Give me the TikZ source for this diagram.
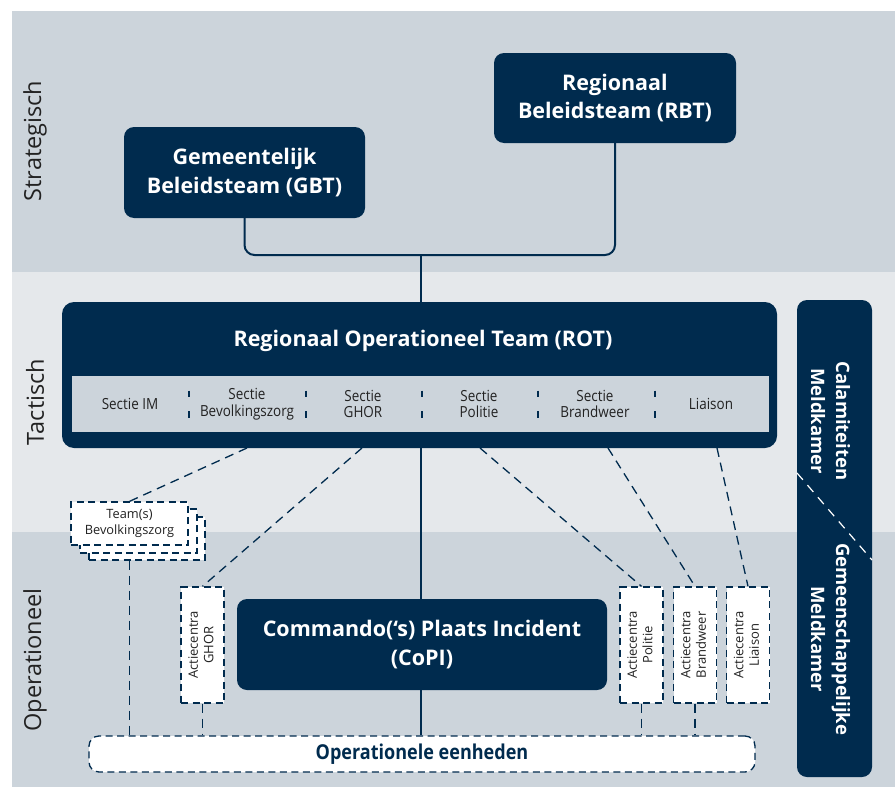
\documentclass[tikz,border=0pt]{standalone}
\usepackage{fontspec}
\setmainfont{Open Sans}
\newfontfamily\condf[FakeStretch=0.88]{Open Sans}
\definecolor{navy}{HTML}{002B4E}
\definecolor{bgS}{HTML}{CCD4DB}
\definecolor{bgT}{HTML}{E5E8EB}
\definecolor{txt}{HTML}{222222}
\begin{document}
\begin{tikzpicture}[x=1pt,y=-1pt,
  darkbox/.style={fill=navy, rounded corners=10pt, text=white, align=center, inner sep=0pt,
    font=\bfseries\fontsize{21.5}{28.5}\selectfont},
  dbox/.style={draw=navy, fill=white, line width=1.3pt, dash pattern=on 7pt off 4.5pt, inner sep=0pt, align=center, text=txt},
  conn/.style={draw=navy, line width=2pt},
  dconn/.style={draw=navy, line width=1.3pt, dash pattern=on 9pt off 6pt},
  lbl/.style={font=\fontsize{23.5}{26}\selectfont, text=txt, rotate=90},
  sect/.style={font=\condf\fontsize{15.3}{16.5}\selectfont, text=txt, align=center},
  sep/.style={draw=navy, line width=2.5pt},
  acbox/.style={dbox, minimum width=43pt, minimum height=116pt, font=\fontsize{13}{15.5}\selectfont},
]
\useasboundingbox (0,0) rectangle (895,787);
\fill[white] (0,0) rectangle (895,787);
\fill[bgS] (12,11) rectangle (895,272);
\fill[bgT] (12,272) rectangle (895,532);
\fill[bgS] (12,532) rectangle (895,787);

% level labels
\node[lbl] (lS) at (35,141) {Strategisch};
\node[lbl] (lT) at (35,402) {Tactisch};
\node[lbl] (lO) at (35,660) {Operationeel};

% strategic boxes
\node[darkbox, minimum width=241pt, minimum height=91pt] (gbt) at (244.5,172.5) {Gemeentelijk\\Beleidsteam (GBT)};
\node[darkbox, minimum width=242pt, minimum height=90pt] (rbt) at (615,98) {Regionaal\\Beleidsteam (RBT)};
\coordinate (j) at (421,255);
\draw[conn, rounded corners=10pt] (gbt.south) |- (j) -| (rbt.south);

% ROT
\node[darkbox, rounded corners=12pt, minimum width=715pt, minimum height=146pt] (rot) at (419.5,375) {};
\draw[conn] (j) -- (j|-rot.north);
\node[font=\bfseries\fontsize{21.5}{24}\selectfont, text=white] (rott) at (423,341) {Regionaal Operationeel Team (ROT)};
\node[fill=bgS, minimum width=697pt, minimum height=56pt, inner sep=0pt] (strip) at (420.5,404) {};
\node[sect] (sim) at (130,404) {Sectie IM};
\node[sect] (sbev) at (247,404) {Sectie\\Bevolkingszorg};
\node[sect] (sghor) at (363,404) {Sectie\\GHOR};
\node[sect] (spol) at (479,404) {Sectie\\Politie};
\node[sect] (sbrand) at (595,404) {Sectie\\Brandweer};
\node[sect] (slia) at (711,404) {Liaison};
\foreach \x in {189,306,422,538,655}{
  \draw[sep] (\x,390.5) -- (\x,397);
  \draw[sep] (\x,411) -- (\x,418);
}

% operational
\node[dbox, minimum width=116pt, minimum height=43pt] (team3) at (147,538.5) {};
\node[dbox, minimum width=117pt, minimum height=44pt] (team2) at (138.5,531) {};
\node[dbox, minimum width=117pt, minimum height=43pt, font=\fontsize{12.8}{16}\selectfont] (team) at (129.5,523.5) {Team(s)\\Bevolkingszorg};

\node[acbox] (ghor) at (202.5,645) {\rotatebox{90}{\begin{tabular}{@{}c@{}}Actiecentra\\GHOR\end{tabular}}};
\node[acbox] (pol) at (641.5,645) {\rotatebox{90}{\begin{tabular}{@{}c@{}}Actiecentra\\Politie\end{tabular}}};
\node[acbox] (brand) at (695,645) {\rotatebox{90}{\begin{tabular}{@{}c@{}}Actiecentra\\Brandweer\end{tabular}}};
\node[acbox] (lia) at (748,645) {\rotatebox{90}{\begin{tabular}{@{}c@{}}Actiecentra\\Liaison\end{tabular}}};

\node[darkbox, minimum width=370pt, minimum height=91pt] (copi) at (422,644.5) {Commando(‘s) Plaats Incident\\(CoPI)};

\node[dbox, rounded corners=10pt, minimum width=666pt, minimum height=36pt, text=navy,
  font=\condf\bfseries\fontsize{20.5}{22}\selectfont] (ope) at (422,754) {Operationele eenheden};

% solid vertical
\draw[conn] (j|-rot.south) -- (j|-copi.north);
\draw[conn] (j|-copi.south) -- (j|-ope.north);

% dashed connectors
\coordinate (t1) at (247,448);
\coordinate (t2) at (362,448);
\coordinate (t3) at (480,448);
\coordinate (t4) at (608,448);
\coordinate (t5) at (717,448);
\draw[dconn] (t1) -- (team.north);
\draw[dconn] (t2) -- (ghor.north);
\draw[dconn] (t3) -- (pol.north);
\draw[dconn] (t4) -- (brand.north);
\draw[dconn] (t5) -- (lia.north);
\draw[dconn] (team.south|-team3.south) -- (team.south|-ope.north);
\draw[dconn] (ghor.south) -- (ghor.south|-ope.north);
\draw[dconn] (pol.south) -- (pol.south|-ope.north);
\draw[dconn] (brand.south) -- (brand.south|-ope.north);

% meldkamer
\node[darkbox, minimum width=75pt, minimum height=477pt] (mk) at (834.5,538.5) {};
\node[rotate=-90, text=white, font=\bfseries\fontsize{18.5}{25}\selectfont, align=center] (mk1) at (830.5,421) {Calamiteiten\\Meldkamer};
\node[rotate=-90, text=white, font=\bfseries\fontsize{18.5}{25}\selectfont, align=center] (mk2) at (830.5,639) {Gemeenschappelijke\\Meldkamer};
\coordinate (d1) at (797,473);
\coordinate (d2) at (872,560);
\draw[white, line width=1.2pt, dash pattern=on 9pt off 7pt] (d1) -- (d2);
\end{tikzpicture}
\end{document}
